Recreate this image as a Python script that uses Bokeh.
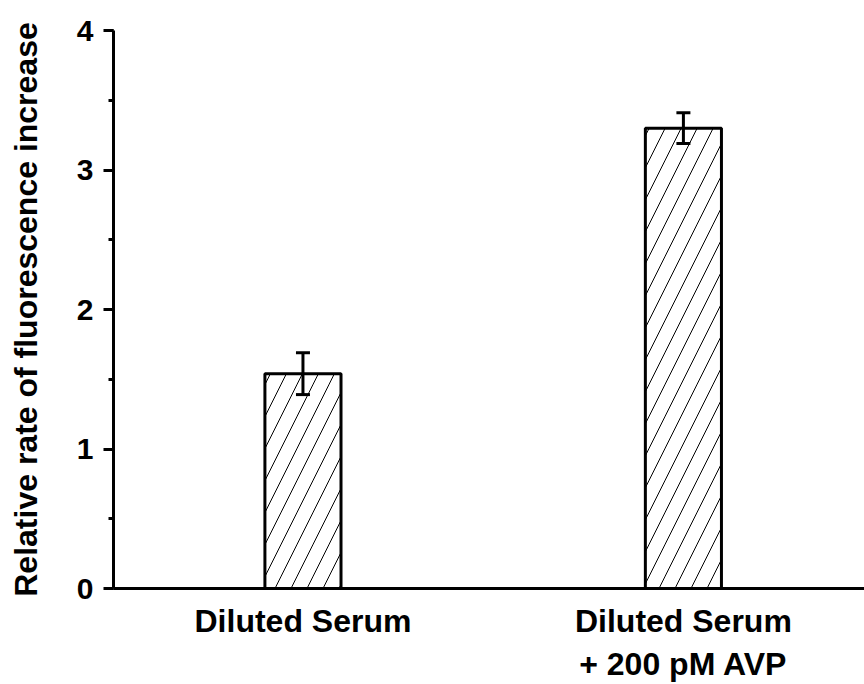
from bokeh.plotting import figure
from bokeh.models import (Range1d, SingleIntervalTicker, FixedTicker, Whisker,
                          ColumnDataSource, TeeHead)
from bokeh.embed import file_html
from bokeh.resources import INLINE

# Data
categories = ["Diluted Serum", "Diluted Serum\n+ 200 pM AVP"]
positions = [1, 2]
values = [1.54, 3.30]
errors = [0.15, 0.11]
y_label = "Relative rate of fluorescence increase"

src = ColumnDataSource(dict(
    x=positions,
    top=values,
    upper=[v + e for v, e in zip(values, errors)],
    lower=[v - e for v, e in zip(values, errors)],
))

FONT = "Liberation Sans"

p = figure(width=864, height=684, output_backend="svg", toolbar_location=None,
           x_range=Range1d(0.502, 2.476), y_range=Range1d(0, 4),
           min_border_left=113, min_border_right=0, min_border_top=30,
           min_border_bottom=96)
p.outline_line_color = None
p.xgrid.visible = False
p.ygrid.visible = False
p.background_fill_color = "white"
p.border_fill_color = "white"

p.vbar(x="x", top="top", width=0.2, source=src,
       fill_color="white", line_color="black", line_width=3,
       hatch_pattern="/", hatch_scale=32, hatch_weight=1, hatch_color="black")

w = Whisker(base="x", upper="upper", lower="lower", source=src,
            line_color="black", line_width=3, level="annotation",
            upper_head=TeeHead(size=14, line_width=3, line_color="black"),
            lower_head=TeeHead(size=14, line_width=3, line_color="black"))
p.add_layout(w)

# Y axis
ya = p.yaxis[0]
ya.ticker = SingleIntervalTicker(interval=1, num_minor_ticks=2)
ya.axis_line_width = 3
ya.major_tick_line_width = 3
ya.minor_tick_line_width = 3
ya.major_tick_in = 0
ya.major_tick_out = 10
ya.minor_tick_in = 0
ya.minor_tick_out = 5
ya.major_label_standoff = 10
ya.major_label_text_font = FONT
ya.major_label_text_font_style = "bold"
ya.major_label_text_font_size = "30px"
ya.major_label_text_color = "black"
ya.axis_label = y_label
ya.axis_label_text_font = FONT
ya.axis_label_text_font_style = "bold"
ya.axis_label_text_font_size = "32px"
ya.axis_label_text_color = "black"
ya.axis_label_standoff = 30

# X axis
xa = p.xaxis[0]
xa.ticker = FixedTicker(ticks=positions)
xa.major_label_overrides = {pos: lab for pos, lab in zip(positions, categories)}
xa.axis_line_width = 3
xa.major_tick_in = 0
xa.major_tick_out = 0
xa.minor_tick_in = 0
xa.minor_tick_out = 0
xa.major_label_standoff = 14
xa.major_label_text_font = FONT
xa.major_label_text_font_style = "bold"
xa.major_label_text_font_size = "32px"
xa.major_label_text_color = "black"

open("out.html", "w").write(file_html(p, INLINE))
